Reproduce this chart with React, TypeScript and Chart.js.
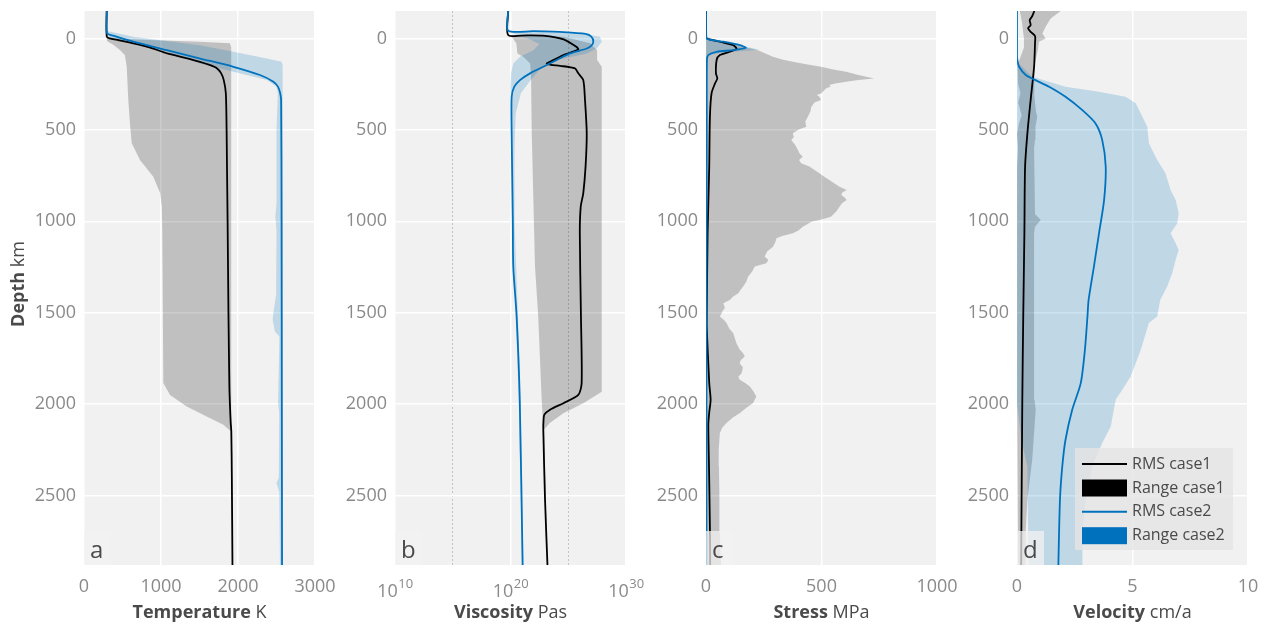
import React, { useEffect, useRef } from 'react';
import { Chart, registerables } from 'chart.js';

Chart.register(...registerables);

type P = [number, number][];

// ---- common axis data ----
const depthRange = [-150, 2880];
const depthTicks = [0, 500, 1000, 1500, 2000, 2500];

// ---- panel a: temperature (depth km, K) ----
const tempTicks = [0, 1000, 2000, 3000];
const tempRms1: P = [[-150, 295], [-12, 295], [0, 330], [10, 450], [27, 640], [50, 860], [82, 1080], [105, 1300], [128, 1505], [145, 1630], [163, 1725], [190, 1780], [228, 1815], [300, 1842], [500, 1852], [700, 1857], [1000, 1865], [1500, 1876], [1900, 1888], [2000, 1895], [2100, 1905], [2150, 1913], [2400, 1920], [2880, 1928]];
const tempRms2: P = [[-150, 295], [-30, 297], [-15, 380], [18, 640], [64, 1075], [110, 1510], [155, 1940], [200, 2285], [237, 2460], [265, 2520], [300, 2548], [340, 2560], [1000, 2566], [2000, 2569], [2880, 2572]];
const tempMin1: P = [[-150, 292], [-8, 292], [15, 300], [35, 380], [64, 470], [91, 530], [155, 555], [337, 575], [483, 600], [574, 620], [665, 727], [756, 900], [847, 990], [920, 1010], [1065, 1017], [1885, 1030], [1950, 1117], [2013, 1333], [2068, 1593], [2113, 1810], [2150, 1910], [2880, 1925]];
const tempMax1: P = [[-150, 298], [-8, 300], [2, 500], [9, 860], [18, 1500], [27, 1895], [50, 1912], [500, 1912], [2150, 1916], [2880, 1930]];
const tempMin2: P = [[-150, 293], [-12, 295], [20, 560], [64, 1000], [100, 1280], [137, 1506], [182, 1940], [228, 2375], [264, 2500], [300, 2518], [500, 2500], [900, 2500], [975, 2485], [1050, 2500], [1400, 2495], [1503, 2459], [1540, 2450], [1603, 2480], [1630, 2537], [1700, 2535], [1990, 2520], [2050, 2535], [2400, 2530], [2432, 2500], [2480, 2535], [2880, 2545]];
const tempMax2: P = [[-150, 297], [-40, 300], [-9, 640], [37, 1506], [73, 1940], [110, 2375], [128, 2567], [150, 2580], [2880, 2583]];

// ---- panel b: viscosity (depth km, log10 Pa s) ----
const viscTicksLog = [10, 15, 20, 25, 30];
const viscRms1Log: P = [[-150, 19.8], [-19, 19.8], [-17, 21.5], [-15, 22.8], [5, 24.6], [46, 25.7], [60, 25.87], [75, 25.3], [91, 24.58], [128, 23.4], [137, 23.13], [145, 23.5], [150, 24.3], [164, 25.58], [191, 25.87], [228, 26.3], [337, 26.45], [519, 26.6], [700, 26.5], [847, 26.3], [920, 26.08], [1066, 26.0], [1521, 26.1], [1885, 26.16], [1950, 25.87], [1995, 24.58], [2031, 23.42], [2058, 22.93], [2100, 22.85], [2140, 22.84], [2523, 22.99], [2880, 23.2]];
const viscRms2Log: P = [[-150, 19.8], [-42, 19.8], [-40, 22], [-35, 24.6], [-25, 26.5], [-10, 27.0], [18, 27.17], [40, 27.0], [55, 26.6], [82, 25.15], [118, 24.0], [155, 22.84], [191, 21.69], [228, 20.82], [264, 20.33], [319, 20.1], [520, 20.1], [1000, 20.2], [1248, 20.24], [1521, 20.53], [1976, 20.8], [2880, 21.05]];
const viscMin1Log: P = [[-150, 19.8], [-18, 19.8], [-9, 20.1], [27, 20.5], [82, 20.6], [100, 21.1], [137, 21.7], [210, 21.78], [519, 21.84], [1248, 22.12], [1521, 22.4], [1976, 22.7], [2140, 22.84], [2880, 23.2]];
const viscMax1Log: P = [[-150, 19.8], [-18, 19.8], [-15, 23], [-9, 24.6], [27, 26.9], [64, 27.5], [118, 27.5], [155, 27.9], [1932, 27.9], [1995, 26.3], [2050, 24.58], [2104, 23.4], [2140, 22.9], [2880, 23.22]];
const viscMin2Log: P = [[-150, 19.78], [-40, 19.8], [-20, 20.5], [0, 21.5], [30, 22.5], [64, 21.98], [100, 20.82], [137, 20.24], [191, 20.05], [264, 19.98], [337, 20.05], [428, 20.13], [1000, 20.18], [1500, 20.45], [2000, 20.72], [2880, 21.0]];
const viscMax2Log: P = [[-150, 19.82], [-42, 19.82], [-38, 22], [-31, 24], [-27, 26], [-9, 27.75], [18, 27.9], [55, 27.47], [82, 26.6], [110, 24.6], [128, 23.3], [180, 22.4], [228, 21.75], [300, 20.9], [410, 20.45], [600, 20.35], [1000, 20.35], [1521, 20.65], [2000, 20.88], [2880, 21.12]];

// ---- panel c: stress (depth km, MPa) ----
const stressTicks = [0, 500, 1000];
const stressRms1: P = [[-150, 0.5], [-5, 1], [5, 15], [18, 60], [37, 118], [50, 130], [58, 132], [73, 103], [91, 60], [118, 46], [191, 43], [219, 49], [246, 39], [300, 24], [428, 17], [700, 14], [1066, 7], [1520, 3], [1576, 3], [1885, 14], [1976, 20], [2046, 14], [2113, 10], [2340, 13], [2687, 17], [2880, 18]];
const stressRms2: P = [[-150, 0], [-20, 0], [0, 3], [10, 30], [18, 75], [37, 147], [51, 172], [64, 118], [73, 46], [91, 10], [118, 4], [500, 3], [1500, 2], [2880, 2]];
const stressMin1: P = [[-150, 0], [2880, 0]];
const stressMax1: P = [[-150, 1], [-5, 2], [5, 20], [18, 75], [42, 147], [64, 225], [85, 262], [100, 290], [115, 330], [128, 376], [142, 440], [155, 499], [168, 545], [182, 607], [200, 660], [219, 728], [228, 660], [237, 607], [246, 560], [255, 534], [264, 540], [273, 520], [286, 510], [300, 500], [310, 480], [319, 491], [337, 498], [350, 470], [374, 456], [400, 452], [428, 441], [455, 430], [483, 434], [500, 400], [519, 376], [540, 380], [556, 369], [580, 385], [610, 398], [630, 405], [647, 419], [665, 403], [683, 412], [701, 448], [720, 470], [738, 491], [756, 512], [774, 534], [792, 555], [811, 578], [829, 609], [842, 590], [856, 586], [870, 600], [884, 609], [900, 590], [920, 578], [945, 565], [975, 541], [990, 500], [1002, 456], [1015, 440], [1030, 419], [1050, 400], [1066, 376], [1080, 330], [1093, 305], [1115, 300], [1139, 290], [1165, 265], [1193, 254], [1212, 270], [1230, 261], [1248, 211], [1275, 200], [1303, 182], [1330, 175], [1357, 161], [1375, 150], [1394, 140], [1412, 118], [1430, 103], [1449, 75], [1475, 82], [1490, 72], [1503, 68], [1521, 60], [1540, 78], [1557, 89], [1585, 100], [1612, 118], [1640, 125], [1667, 132], [1700, 145], [1720, 160], [1740, 168], [1760, 150], [1776, 146], [1800, 160], [1831, 154], [1850, 140], [1867, 146], [1885, 170], [1904, 190], [1930, 205], [1958, 218], [1994, 204], [2020, 175], [2049, 147], [2075, 115], [2104, 89], [2130, 70], [2159, 60], [2250, 55], [2341, 56], [2500, 58], [2705, 60], [2880, 65]];
const stressMin2: P = [[-150, 0], [2880, 0]];
const stressMax2: P = [[-150, 1], [-10, 2], [10, 40], [30, 120], [50, 190], [62, 230], [70, 150], [80, 60], [90, 12], [100, 6], [2880, 5]];

// ---- panel d: velocity (depth km, cm/a) ----
const velTicks = [0, 5, 10];
const velRms1: P = [[-150, 0.75], [-120, 0.65], [-100, 0.55], [-73, 0.59], [-55, 0.48], [-36, 0.59], [-13, 0.78], [26, 0.78], [155, 0.74], [337, 0.59], [519, 0.45], [701, 0.35], [1066, 0.32], [1521, 0.27], [1976, 0.23], [2687, 0.19], [2880, 0.18]];
const velRms2: P = [[-150, 0], [100, 0], [120, 0.02], [155, 0.09], [200, 0.38], [228, 0.8], [264, 1.39], [319, 2.1], [392, 2.83], [465, 3.4], [556, 3.69], [701, 3.84], [884, 3.77], [1066, 3.55], [1248, 3.33], [1430, 3.1], [1521, 3.05], [1703, 2.94], [1885, 2.76], [2031, 2.39], [2195, 2.1], [2341, 1.96], [2523, 1.86], [2880, 1.79]];
const velMin1: P = [[-150, 0.12], [-100, 0.2], [-50, 0.25], [0, 0.3], [50, 0.3], [120, 0.1], [150, 0.02], [250, 0.05], [300, 0.15], [350, 0.05], [420, 0.2], [460, 0.1], [520, 0], [600, 0.05], [700, 0], [1100, 0], [1500, 0], [2000, 0], [2880, 0.05]];
const velMax1: P = [[-150, 1.89], [-109, 1.46], [-64, 1.24], [-27, 1.1], [0, 1.24], [18, 0.95], [64, 0.9], [150, 0.75], [300, 0.74], [400, 0.82], [428, 0.88], [480, 0.8], [556, 0.78], [600, 0.74], [960, 0.78], [993, 1.03], [1030, 0.78], [1066, 0.74], [1500, 0.74], [1976, 0.76], [2031, 0.81], [2304, 0.66], [2523, 0.45], [2687, 0.38], [2880, 0.38]];
const velMin2: P = [[-150, 0], [130, 0], [1000, 0], [2000, 0], [2200, 0.2], [2341, 0.45], [2880, 0.5]];
const velMax2: P = [[-150, 0], [120, 0], [133, 0.05], [210, 0.66], [264, 2.1], [292, 3.55], [319, 4.7], [355, 5.14], [410, 5.36], [483, 5.64], [574, 5.71], [665, 6.07], [738, 6.43], [829, 6.65], [884, 6.87], [956, 7.0], [1011, 6.94], [1066, 6.65], [1120, 6.87], [1157, 7.0], [1211, 6.87], [1284, 6.72], [1357, 6.5], [1430, 6.2], [1521, 6.07], [1557, 5.71], [1703, 5.36], [1849, 4.92], [1922, 4.56], [1976, 4.27], [2122, 4.06], [2213, 3.69], [2341, 3.26], [2523, 2.97], [2705, 2.83], [2880, 2.83]];

const legendLabels = ['RMS case1', 'Range case1', 'RMS case2', 'Range case2'];

// ---- styles ----
const FONT = '"Open Sans", "Noto Sans", sans-serif';
const TICK_COLOR = '#8a8a8a';
const TEXT_COLOR = '#4a4a4a';
const BG = '#f1f1f1';
const BLACK = '#000000';
const BLUE = '#0072bd';
const GRAY_FILL = 'rgba(0,0,0,0.2)';
const BLUE_FILL = 'rgba(0,114,189,0.2)';

const CANVAS_W = 338;
const CANVAS_H = 630;
const Y_AXIS_W = 84;
const X_AXIS_H = 65;
const PAD_TOP = 11;
const PAD_RIGHT = 23;
const TICK_SIZE = 18;
const TITLE_SIZE = 18;

type Tf = (v: number) => number;
const ident: Tf = (v) => v;
const pow10: Tf = (v) => Math.pow(10, v);

function pts(a: P, f: Tf) {
  return a.map(([d, v]) => ({ x: f(v), y: d }));
}
function band(min: P, max: P, f: Tf) {
  return [...pts(min, f), ...pts(max, f).reverse()];
}

interface PanelSpec {
  letter: string;
  left: number;
  log: boolean;
  xMin: number;
  xMax: number;
  xTicks: number[];
  minor: number[];
  titleBold: string;
  titleUnit: string;
  rms1: P; rms2: P; min1: P; max1: P; min2: P; max2: P;
  f: Tf;
  legend?: boolean;
  yTitle?: boolean;
}

const panels: PanelSpec[] = [
  { letter: 'a', left: 0, log: false, xMin: 0, xMax: 3000, xTicks: tempTicks, minor: [], titleBold: 'Temperature', titleUnit: 'K', rms1: tempRms1, rms2: tempRms2, min1: tempMin1, max1: tempMax1, min2: tempMin2, max2: tempMax2, f: ident, yTitle: true },
  { letter: 'b', left: 311, log: true, xMin: 1e10, xMax: 1e30, xTicks: viscTicksLog.map(pow10), minor: [1e15, 1e25], titleBold: 'Viscosity', titleUnit: 'Pas', rms1: viscRms1Log, rms2: viscRms2Log, min1: viscMin1Log, max1: viscMax1Log, min2: viscMin2Log, max2: viscMax2Log, f: pow10 },
  { letter: 'c', left: 622, log: false, xMin: 0, xMax: 1000, xTicks: stressTicks, minor: [], titleBold: 'Stress', titleUnit: 'MPa', rms1: stressRms1, rms2: stressRms2, min1: stressMin1, max1: stressMax1, min2: stressMin2, max2: stressMax2, f: ident },
  { letter: 'd', left: 933, log: false, xMin: 0, xMax: 10, xTicks: velTicks, minor: [], titleBold: 'Velocity', titleUnit: 'cm/a', rms1: velRms1, rms2: velRms2, min1: velMin1, max1: velMax1, min2: velMin2, max2: velMax2, f: ident, legend: true },
];

function drawMixed(ctx: CanvasRenderingContext2D, bold: string, normal: string, cx: number, cy: number, size: number) {
  ctx.font = `bold ${size}px ${FONT}`;
  const w1 = ctx.measureText(bold + ' ').width;
  ctx.font = `${size}px ${FONT}`;
  const w2 = ctx.measureText(normal).width;
  const x0 = cx - (w1 + w2) / 2;
  ctx.fillStyle = TEXT_COLOR;
  ctx.textBaseline = 'middle';
  ctx.textAlign = 'left';
  ctx.font = `bold ${size}px ${FONT}`;
  ctx.fillText(bold, x0, cy);
  ctx.font = `${size}px ${FONT}`;
  ctx.fillText(normal, x0 + w1, cy);
}

function Panel({ spec }: { spec: PanelSpec }) {
  const ref = useRef<HTMLCanvasElement | null>(null);
  useEffect(() => {
    if (!ref.current) return;
    const s = spec;
    const isMinor = (v: number | undefined) => v !== undefined && s.minor.some((m) => Math.abs(Math.log10(m) - Math.log10(v)) < 1e-6);

    const bgPlugin = {
      id: 'bg',
      beforeDraw(chart: any) {
        const { ctx, chartArea: a } = chart;
        ctx.save();
        ctx.fillStyle = BG;
        ctx.fillRect(a.left, a.top, a.right - a.left, a.bottom - a.top);
        ctx.restore();
      },
    };

    const decorPlugin = {
      id: 'decor',
      afterDatasetsDraw(chart: any) {
        const { ctx, chartArea: a } = chart;
        ctx.save();
        // panel letter
        ctx.fillStyle = 'rgba(242,242,242,0.72)';
        ctx.fillRect(a.left, a.bottom - 34, 27, 34);
        ctx.fillStyle = TEXT_COLOR;
        ctx.font = `24px ${FONT}`;
        ctx.textAlign = 'left';
        ctx.textBaseline = 'alphabetic';
        ctx.fillText(s.letter, a.left + 6, a.bottom - 7);
        // legend
        if (s.legend) {
          const bx = 142, by = 448, bw = 158, bh = 102;
          ctx.fillStyle = 'rgba(229,229,229,0.8)';
          ctx.fillRect(bx, by, bw, bh);
          const rows = [464, 488, 511.7, 535.7];
          const sx0 = 149, sx1 = 194;
          legendLabels.forEach((lab, i) => {
            const y = rows[i];
            const col = i < 2 ? BLACK : BLUE;
            if (i % 2 === 0) {
              ctx.strokeStyle = col;
              ctx.lineWidth = 2;
              ctx.beginPath();
              ctx.moveTo(sx0, y);
              ctx.lineTo(sx1, y);
              ctx.stroke();
            } else {
              ctx.fillStyle = col;
              ctx.fillRect(sx0, y - 8.5, sx1 - sx0, 17);
            }
            ctx.fillStyle = TEXT_COLOR;
            ctx.font = `16px ${FONT}`;
            ctx.textBaseline = 'middle';
            ctx.fillText(lab, 199, y);
          });
        }
        ctx.restore();
      },
      afterDraw(chart: any) {
        const { ctx, chartArea: a } = chart;
        ctx.save();
        drawMixed(ctx, s.titleBold, s.titleUnit, (a.left + a.right) / 2, 613, TITLE_SIZE);
        if (s.yTitle) {
          ctx.translate(19, 284);
          ctx.rotate(-Math.PI / 2);
          drawMixed(ctx, 'Depth', 'km', 0, 0, TITLE_SIZE);
          ctx.setTransform(1, 0, 0, 1, 0, 0);
        }
        if (s.log) {
          const xs = chart.scales.x;
          ctx.fillStyle = TICK_COLOR;
          ctx.textAlign = 'left';
          ctx.textBaseline = 'alphabetic';
          [10, 20, 30].forEach((e) => {
            const px = xs.getPixelForValue(Math.pow(10, e));
            ctx.font = `${TICK_SIZE}px ${FONT}`;
            const w1 = ctx.measureText('10').width;
            ctx.font = `13px ${FONT}`;
            const w2 = ctx.measureText(String(e)).width;
            const x0 = px - (w1 + w2) / 2;
            ctx.font = `${TICK_SIZE}px ${FONT}`;
            ctx.fillText('10', x0, 597);
            ctx.font = `13px ${FONT}`;
            ctx.fillText(String(e), x0 + w1 + 0.5, 588);
          });
        }
        ctx.restore();
      },
    };

    const lineDs = (data: any[], color: string) => ({
      data, showLine: true, borderColor: color, borderWidth: 1.8, pointRadius: 0, fill: false, tension: 0.25,
    });
    const bandDs = (data: any[], color: string) => ({
      data, showLine: true, borderWidth: 0, borderColor: 'rgba(0,0,0,0)', backgroundColor: color, pointRadius: 0, fill: 'shape', tension: 0,
    });

    const chart = new Chart(ref.current, {
      type: 'scatter',
      data: {
        datasets: [
          lineDs(pts(s.rms2, s.f), BLUE),
          lineDs(pts(s.rms1, s.f), BLACK),
          bandDs(band(s.min2, s.max2, s.f), BLUE_FILL),
          bandDs(band(s.min1, s.max1, s.f), GRAY_FILL),
        ] as any,
      },
      options: {
        animation: false,
        responsive: false,
        events: [],
        layout: { padding: { top: PAD_TOP, right: PAD_RIGHT, left: 0, bottom: 0 } },
        plugins: { legend: { display: false }, tooltip: { enabled: false } },
        scales: {
          x: {
            type: s.log ? 'logarithmic' : 'linear',
            position: 'bottom',
            min: s.xMin,
            max: s.xMax,
            afterBuildTicks: (axis: any) => {
              axis.ticks = s.xTicks.map((v) => ({ value: v }));
            },
            afterFit: (axis: any) => {
              axis.height = X_AXIS_H;
              axis.paddingLeft = 0;
              axis.paddingRight = 0;
              axis.paddingTop = 0;
              axis.paddingBottom = 0;
            },
            grid: {
              drawTicks: false,
              color: (c: any) => (isMinor(c.tick?.value) ? '#c4c4c4' : '#ffffff'),
              lineWidth: (c: any) => (isMinor(c.tick?.value) ? 1 : 1.5),
            },
            border: {
              display: false,
              dash: (c: any) => (isMinor(c.tick?.value) ? [2, 2] : []),
            },
            ticks: {
              display: !s.log,
              autoSkip: false,
              maxRotation: 0,
              padding: 11,
              color: TICK_COLOR,
              font: { family: FONT, size: TICK_SIZE },
              callback: (v: any) => String(v),
            },
          },
          y: {
            type: 'linear',
            reverse: true,
            min: depthRange[0],
            max: depthRange[1],
            afterBuildTicks: (axis: any) => {
              axis.ticks = depthTicks.map((v) => ({ value: v }));
            },
            afterFit: (axis: any) => {
              axis.width = Y_AXIS_W;
              axis.paddingLeft = 0;
              axis.paddingRight = 0;
              axis.paddingTop = 0;
              axis.paddingBottom = 0;
            },
            grid: { drawTicks: false, color: '#ffffff', lineWidth: 1.5 },
            border: { display: false },
            ticks: {
              autoSkip: false,
              padding: 8,
              color: TICK_COLOR,
              font: { family: FONT, size: TICK_SIZE },
              callback: (v: any) => String(v),
            },
          },
        },
      } as any,
      plugins: [bgPlugin, decorPlugin],
    });
    return () => chart.destroy();
  }, [spec]);

  return (
    <canvas
      ref={ref}
      width={CANVAS_W}
      height={CANVAS_H}
      style={{ position: 'absolute', left: spec.left, top: 0, width: CANVAS_W, height: CANVAS_H }}
    />
  );
}

export default function App() {
  return (
    <div style={{ position: 'absolute', left: 0, top: 0, width: 1272, height: 630, overflow: 'hidden', background: '#ffffff' }}>
      {panels.map((p) => (
        <Panel key={p.letter} spec={p} />
      ))}
    </div>
  );
}
